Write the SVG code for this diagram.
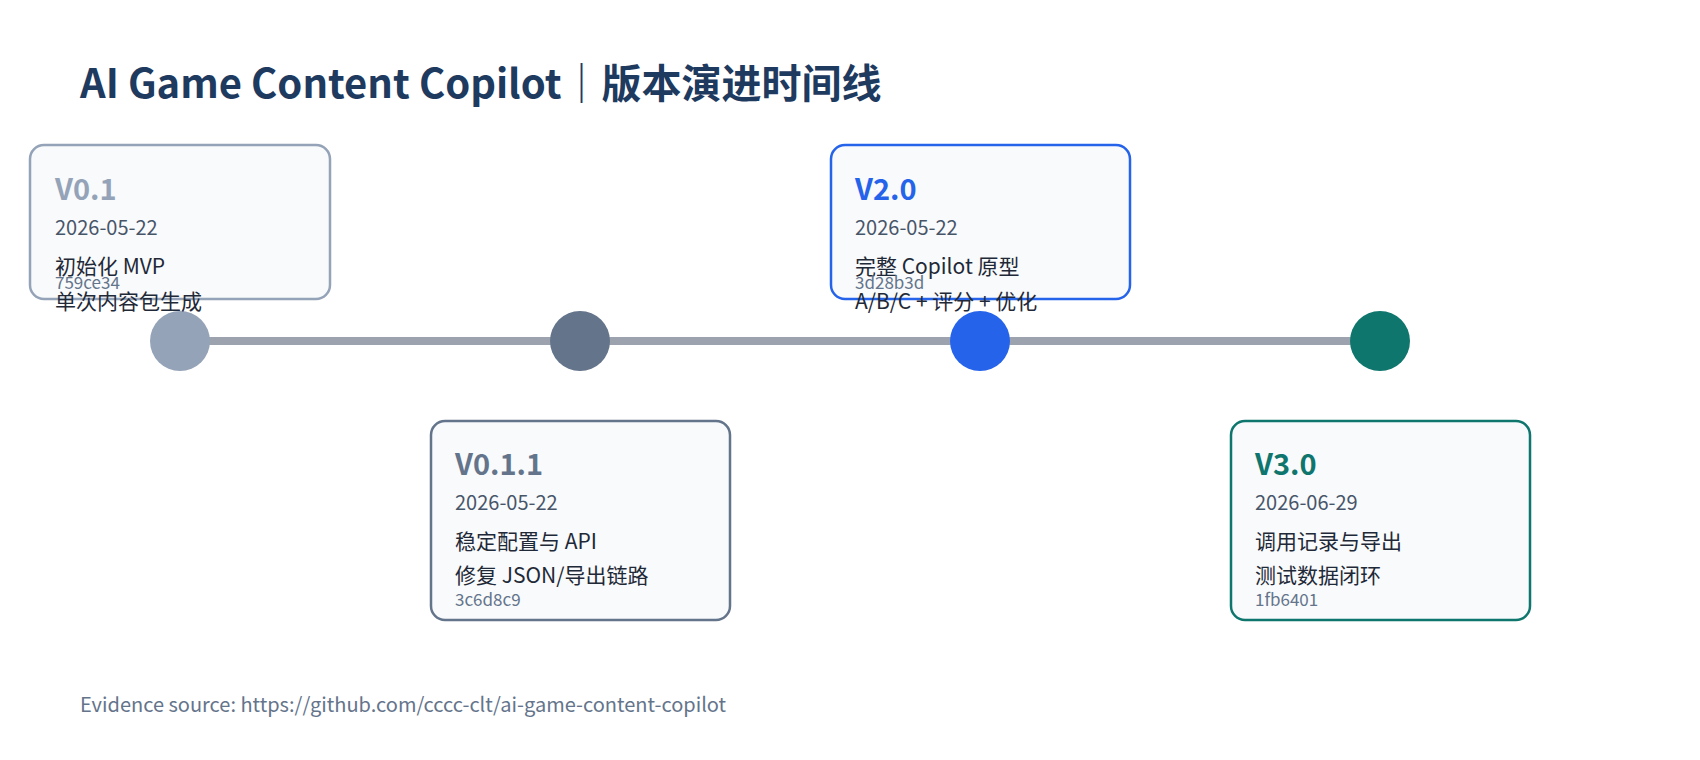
<svg xmlns="http://www.w3.org/2000/svg" width="1700" height="760" viewBox="0 0 1700 760">
<style>
text{font-family:"Noto Sans CJK SC","Noto Sans",sans-serif}
.title{font-size:40px;font-weight:700;fill:#1e3a5f}
.box{fill:#f8fafc;stroke-width:2.5}
.ver{font-size:29px;font-weight:700}
.date{font-size:20px;fill:#475569}
.desc{font-size:21px;fill:#1f2937}
.hash{font-size:17px;fill:#64748b}
.foot{font-size:20px;fill:#64748b}
</style>
<rect width="1700" height="760" fill="#ffffff"/>
<text class="title" x="80" y="98">AI Game Content Copilot｜版本演进时间线</text>
<g id="connectors">
<line x1="180" y1="341" x2="1380" y2="341" stroke="#9ca3af" stroke-width="8"/>
</g>
<g id="v01">
<circle cx="180" cy="341" r="30" fill="#94a3b8"/>
<rect class="box" x="30" y="145" width="300" height="154" rx="14" stroke="#94a3b8"/>
<text class="ver" x="55" y="200" fill="#94a3b8">V0.1</text>
<text class="date" x="55" y="235">2026-05-22</text>
<text class="desc" x="55" y="274">初始化 MVP</text>
<text class="hash" x="55" y="289">759ce34</text>
<text class="desc" x="55" y="309">单次内容包生成</text>
</g>
<g id="v011">
<circle cx="580" cy="341" r="30" fill="#64748b"/>
<rect class="box" x="431" y="421" width="299" height="199" rx="14" stroke="#64748b"/>
<text class="ver" x="455" y="475" fill="#64748b">V0.1.1</text>
<text class="date" x="455" y="510">2026-05-22</text>
<text class="desc" x="455" y="549">稳定配置与 API</text>
<text class="desc" x="455" y="583">修复 JSON/导出链路</text>
<text class="hash" x="455" y="606">3c6d8c9</text>
</g>
<g id="v20">
<circle cx="980" cy="341" r="30" fill="#2563eb"/>
<rect class="box" x="831" y="145" width="299" height="154" rx="14" stroke="#2563eb"/>
<text class="ver" x="855" y="200" fill="#2563eb">V2.0</text>
<text class="date" x="855" y="235">2026-05-22</text>
<text class="desc" x="855" y="274">完整 Copilot 原型</text>
<text class="hash" x="855" y="289">3d28b3d</text>
<text class="desc" x="855" y="309">A/B/C + 评分 + 优化</text>
</g>
<g id="v30">
<circle cx="1380" cy="341" r="30" fill="#0f766e"/>
<rect class="box" x="1231" y="421" width="299" height="199" rx="14" stroke="#0f766e"/>
<text class="ver" x="1255" y="475" fill="#0f766e">V3.0</text>
<text class="date" x="1255" y="510">2026-06-29</text>
<text class="desc" x="1255" y="549">调用记录与导出</text>
<text class="desc" x="1255" y="583">测试数据闭环</text>
<text class="hash" x="1255" y="606">1fb6401</text>
</g>
<text class="foot" x="80" y="712">Evidence source: https://github.com/cccc-clt/ai-game-content-copilot</text>
</svg>
